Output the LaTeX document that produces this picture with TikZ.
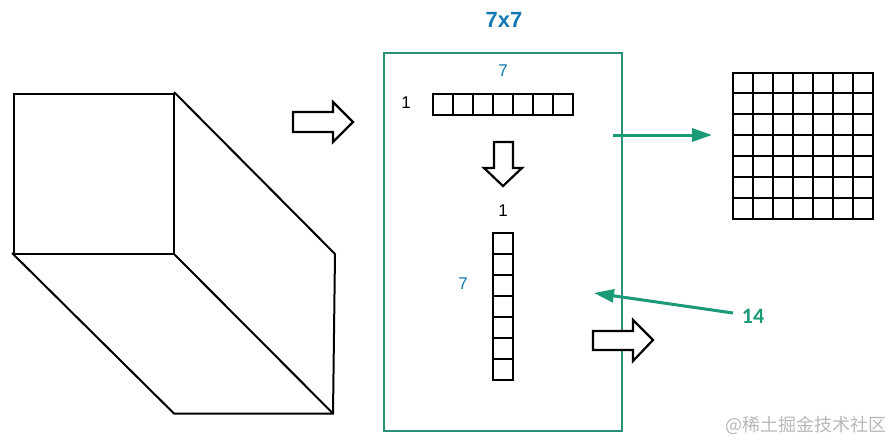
\documentclass[tikz,border=0pt]{standalone}
\usepackage{fontspec}
\setmainfont{Liberation Sans}
\newfontfamily\cjkfont{Noto Sans CJK SC}
\newfontfamily\numfont{Carlito}
\usepackage{xcolor}
\usetikzlibrary{arrows.meta}
\definecolor{boxgreen}{HTML}{2A9078}
\definecolor{arrowgreen}{HTML}{1B9A78}
\definecolor{labelblue}{HTML}{1178B4}
\tikzset{
    cellline/.style={line width=2.2pt, line join=miter},
    blockarrow/.style={line width=2.2pt, fill=white, line join=miter},
    greenarrow/.style={-{Triangle[length=20pt,width=13pt]}, line width=3pt, arrowgreen},
}

\begin{document}
\begin{tikzpicture}[x=1pt, y=-1pt, >=Stealth]
    \useasboundingbox (0,0) rectangle (892,442);

    % box
    \draw[line width=2pt] (14,94) rectangle (174,254);
    \draw[line width=2pt] (174,92) -- (335,254) -- (333,413.5) -- (174,413.5) -- (12,253);
    \draw[line width=2pt] (174,254) -- (333,413.5);

    \draw[blockarrow] (293,112) -- (333,112) -- (333,102) -- (353,122) -- (333,142) -- (333,132) -- (293,132) -- cycle;

    % kernel
    \draw[line width=1.8pt, boxgreen] (384,53) rectangle (622,431);
    \node[font=\bfseries\fontsize{22}{25}\selectfont, labelblue] (title) at (504,20) {7x7};
    \node[font=\fontsize{17}{20}\selectfont, labelblue] (rowsize) at (503,71) {7};
    \node[font=\fontsize{17}{20}\selectfont] (rowone) at (406,103) {1};
    \node[font=\fontsize{17}{20}\selectfont] (colone) at (503,211) {1};
    \node[font=\fontsize{17}{20}\selectfont, labelblue] (colsize) at (463,284) {7};

    \foreach \i in {0,...,6}
        \draw[cellline] (433+20*\i,94) rectangle (453+20*\i,115);
    \foreach \i in {0,...,6}
        \draw[cellline] (493,233+21*\i) rectangle (513,254+21*\i);

    \draw[blockarrow] (494,142) -- (513,142) -- (513,168) -- (522,168) -- (503,186) -- (484,168) -- (494,168) -- cycle;

    % result
    \draw[cellline] (733,73) rectangle (873,219);
    \foreach \x in {753,773,793,813,833,853}
        \draw[cellline] (\x,73) -- (\x,219);
    \foreach \y in {93,114,135,156,177,198}
        \draw[cellline] (733,\y) -- (873,\y);

    \coordinate (outstart) at (613,135);
    \coordinate (outend) at (712,135);
    \draw[greenarrow] (outstart) -- (outend);

    \node[font=\numfont\bfseries\fontsize{22}{25}\selectfont, arrowgreen] (count) at (753,316) {14};
    \coordinate (countstart) at (733,313);
    \coordinate (countend) at (594,293);
    \draw[greenarrow] (countstart) -- (countend);

    \draw[blockarrow] (593,331) -- (633,331) -- (633,320) -- (653,340) -- (633,361) -- (633,350) -- (593,350) -- cycle;

    \node[font=\cjkfont\fontsize{18}{21}\selectfont, text=black!28] (mark) at (806,425) {@稀土掘金技术社区};
\end{tikzpicture}
\end{document}
